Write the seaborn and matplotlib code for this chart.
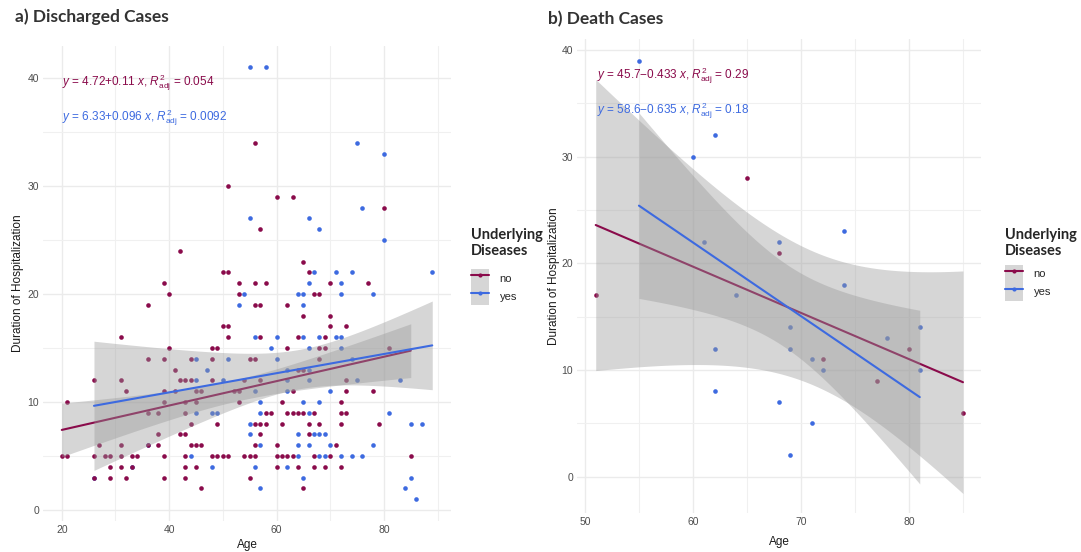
import matplotlib
matplotlib.use("Agg")
import matplotlib.pyplot as plt
import numpy as np
import seaborn as sns
from matplotlib.lines import Line2D
from matplotlib.patches import Patch
from matplotlib.legend_handler import HandlerTuple
from matplotlib.ticker import MultipleLocator

RED = "#8A0B4B"
BLUE = "#3D6AE0"
BAND = "#999999"

# a) Discharged cases, no underlying disease  (age, days)
dis_no = [
    (56, 34), (51, 30), (57, 26), (42, 24), (50, 22), (51, 22), (39, 21), (53, 21), (56, 21), (58, 21),
    (40, 20), (53, 20), (36, 19), (56, 19), (57, 19), (50, 17), (51, 17),
    (60, 29), (63, 29), (80, 28), (65, 23), (66, 22), (70, 21), (77, 21), (67, 20), (68, 20), (62, 19),
    (65, 18), (70, 18), (70, 17), (73, 17),
    (31, 16), (51, 16), (57, 16), (40, 15), (48, 15), (49, 15),
    (36, 14), (39, 14), (44, 14), (48, 14), (55, 14), (56, 14), (41, 13),
    (26, 12), (31, 12), (42, 12), (43, 12), (44, 12), (48, 12), (54, 12), (57, 12),
    (32, 11), (39, 11), (41, 11), (45, 11), (46, 11), (52, 11), (53, 11),
    (21, 10), (39, 10), (43, 10), (45, 10), (53, 10),
    (36, 9), (38, 9), (43, 9), (58, 9), (44, 8), (49, 8), (56, 8), (57, 8), (58, 8),
    (38, 7), (42, 7), (43, 7), (57, 7),
    (27, 6), (31, 6), (36, 6), (38, 6), (44, 6), (45, 6), (46, 6), (56, 6),
    (20, 5), (21, 5), (26, 5), (28, 5), (29, 5), (31, 5), (33, 5), (34, 5), (39, 5), (43, 5), (48, 5),
    (49, 5), (50, 5), (51, 5), (54, 5), (55, 5), (56, 5),
    (29, 4), (31, 4), (33, 4), (43, 4), (45, 4),
    (26, 3), (29, 3), (32, 3), (39, 3), (43, 3), (55, 3), (46, 2),
    (64, 16), (69, 16), (62, 15), (68, 15), (69, 15), (81, 15), (68, 14), (64, 13), (65, 13), (73, 12),
    (63, 11), (73, 11), (78, 11), (61, 10), (72, 10),
    (59, 9), (62, 9), (63, 9), (64, 9), (65, 9), (67, 9), (72, 9), (73, 9),
    (61, 8), (66, 8), (68, 8), (72, 8), (79, 8), (66, 7), (60, 6), (71, 6),
    (60, 5), (61, 5), (62, 5), (63, 5), (67, 5), (70, 5), (85, 5),
    (60, 4), (64, 4), (67, 4), (69, 4), (72, 4), (65, 2),
]
# a) Discharged cases, with underlying disease (last ones sit under red points)
dis_yes = [
    (55, 41), (58, 41), (55, 27), (54, 20), (53, 19),
    (75, 34), (80, 33), (66, 27), (68, 26), (76, 28), (80, 25), (67, 22), (71, 22), (74, 22), (89, 22),
    (66, 21), (72, 21), (64, 20), (65, 20), (72, 20), (78, 20), (65, 19),
    (56, 16), (45, 14), (51, 14), (47, 13), (45, 12), (50, 12), (56, 11), (57, 10),
    (45, 9), (48, 9), (49, 9), (57, 9), (55, 8), (55, 7), (57, 6), (44, 5), (48, 4), (56, 4), (57, 2),
    (60, 16), (65, 16), (68, 16), (71, 16), (72, 16), (59, 15), (66, 15), (72, 15), (60, 14), (74, 14),
    (62, 13), (66, 13), (62, 12), (66, 12), (75, 12), (83, 12), (62, 11), (70, 11), (65, 10), (68, 10),
    (66, 9), (81, 9), (85, 8), (87, 8), (64, 7), (67, 7), (68, 7), (69, 7), (64, 6), (66, 6), (70, 6), (78, 6),
    (64, 5), (68, 5), (69, 5), (72, 5), (74, 5), (76, 5), (62, 4), (65, 3), (85, 3), (84, 2), (86, 1),
    (26, 3), (33, 4), (36, 6),
]
# b) Death cases
death_no = [(51, 17), (65, 28), (68, 21), (72, 11), (77, 9), (80, 12), (85, 6)]
death_yes = [
    (55, 39), (60, 30), (62, 32), (61, 22), (64, 17), (62, 12), (62, 8), (68, 7), (68, 22), (74, 23),
    (74, 18), (69, 14), (78, 13), (81, 14), (69, 12), (71, 11), (72, 10), (81, 10), (71, 5), (69, 2),
]

eq_a = [r"$y$ = 4.72+0.11 $x$, $R^2_{\mathrm{adj}}$ = 0.054",
        r"$y$ = 6.33+0.096 $x$, $R^2_{\mathrm{adj}}$ = 0.0092"]
eq_b = [r"$y$ = 45.7$-$0.433 $x$, $R^2_{\mathrm{adj}}$ = 0.29",
        r"$y$ = 58.6$-$0.635 $x$, $R^2_{\mathrm{adj}}$ = 0.18"]

sns.set_theme(style="white")
plt.rcParams["font.family"] = ["Liberation Sans", "DejaVu Sans"]
plt.rcParams["mathtext.fontset"] = "custom"
plt.rcParams["mathtext.rm"] = "Liberation Sans"
plt.rcParams["mathtext.it"] = "Liberation Sans:italic"

fig = plt.figure(figsize=(10.81, 5.52), dpi=100)
ax_a = fig.add_axes([0.040, 0.0565, 0.377, 0.861])
ax_b = fig.add_axes([0.5341, 0.0707, 0.3737, 0.8583])


def t975(df):
    # Cornish-Fisher expansion of the t quantile
    z = 1.959964
    return (z + (z**3 + z) / (4 * df) + (5 * z**5 + 16 * z**3 + 3 * z) / (96 * df**2)
            + (3 * z**7 + 19 * z**5 + 17 * z**3 - 15 * z) / (384 * df**3))


def lm_band(x, y):
    x = np.asarray(x, float)
    y = np.asarray(y, float)
    n = len(x)
    b, a = np.polyfit(x, y, 1)
    s = np.sqrt(np.sum((y - (a + b * x)) ** 2) / (n - 2))
    g = np.linspace(x.min(), x.max(), 80)
    se = s * np.sqrt(1 / n + (g - x.mean()) ** 2 / np.sum((x - x.mean()) ** 2))
    fit = a + b * g
    return g, fit - t975(n - 2) * se, fit + t975(n - 2) * se


def draw(ax, no, yes, eqs, eq_x, eq_y, xlim, ylim, xmaj):
    for pts, col in ((yes, BLUE), (no, RED)):
        sns.scatterplot(x=[p[0] for p in pts], y=[p[1] for p in pts], color=col, s=11,
                        linewidth=0, ax=ax, zorder=2)
    z = 3
    for pts, col in ((no, RED), (yes, BLUE)):
        xs = [p[0] for p in pts]
        ys = [p[1] for p in pts]
        g, lo, hi = lm_band(xs, ys)
        ax.fill_between(g, lo, hi, color=BAND, alpha=0.4, lw=0, zorder=z)
        sns.regplot(x=xs, y=ys, scatter=False, ci=None, color=col, ax=ax,
                    line_kws={"lw": 1.5, "zorder": z + 0.1})
        z += 0.2
    for txt, yy, col in zip(eqs, eq_y, (RED, BLUE)):
        ax.text(eq_x, yy, txt, color=col, fontsize=8.5, va="center", ha="left", zorder=5)
    ax.set_xlim(*xlim)
    ax.set_ylim(*ylim)
    ax.xaxis.set_major_locator(MultipleLocator(xmaj))
    ax.xaxis.set_minor_locator(MultipleLocator(xmaj / 2))
    ax.yaxis.set_major_locator(MultipleLocator(10))
    ax.yaxis.set_minor_locator(MultipleLocator(5))
    ax.grid(which="major", color="#EBEBEB", lw=1.0)
    ax.grid(which="minor", color="#F0F0F0", lw=0.8)
    ax.set_axisbelow(True)
    for s in ax.spines.values():
        s.set_visible(False)
    ax.tick_params(which="both", length=0, labelsize=7.5, labelcolor="#4D4D4D", pad=3)
    ax.set_xlabel("Age", fontsize=8.5, color="#1A1A1A")
    ax.set_ylabel("Duration of Hospitalization", fontsize=8.5, color="#1A1A1A")


draw(ax_a, dis_no, dis_yes, eq_a, 20, [39.6, 36.3], (16.55, 92.45), (-1, 43), 20)
draw(ax_b, death_no, death_yes, eq_b, 51.1, [37.55, 34.3], (49.3, 86.7), (-3.4, 41), 10)
ax_a.xaxis.set_label_coords(0.5, -0.038)
ax_a.yaxis.set_label_coords(-0.048, 0.5)
ax_b.xaxis.set_label_coords(0.5, -0.048)
ax_b.yaxis.set_label_coords(-0.042, 0.5)

fig.text(15 / 1081, 1 - 17 / 552, "a) Discharged Cases", fontsize=12.5, fontweight="bold",
         family="Lato", color="#333333", va="center")
fig.text(548 / 1081, 1 - 19 / 552, "b) Death Cases", fontsize=12.5, fontweight="bold",
         family="Lato", color="#333333", va="center")

handles = [(Patch(facecolor="#D6D6D6", edgecolor="none"),
            Line2D([], [], color=c, lw=1.5, marker="o", ms=3, mew=0)) for c in (RED, BLUE)]
for xpos, ypos, gap in ((462 / 1081, 1 - 219 / 552, 8), (996 / 1081, 1 - 219 / 552, 5)):
    leg = fig.legend(handles, ["no", "yes"], loc="upper left", bbox_to_anchor=(xpos, ypos),
                     handler_map={tuple: HandlerTuple(ndivide=1, pad=0)},
                     title="Underlying\nDiseases", alignment="left", frameon=False,
                     fontsize=8, labelspacing=0, handlelength=1.6, handleheight=2.1,
                     handletextpad=1.0, borderpad=0.3,
                     title_fontproperties={"family": "Lato", "weight": "bold", "size": 10.5})
    leg._legend_box.sep = gap  # gap between title and keys

fig.savefig("out.png", dpi=100)
